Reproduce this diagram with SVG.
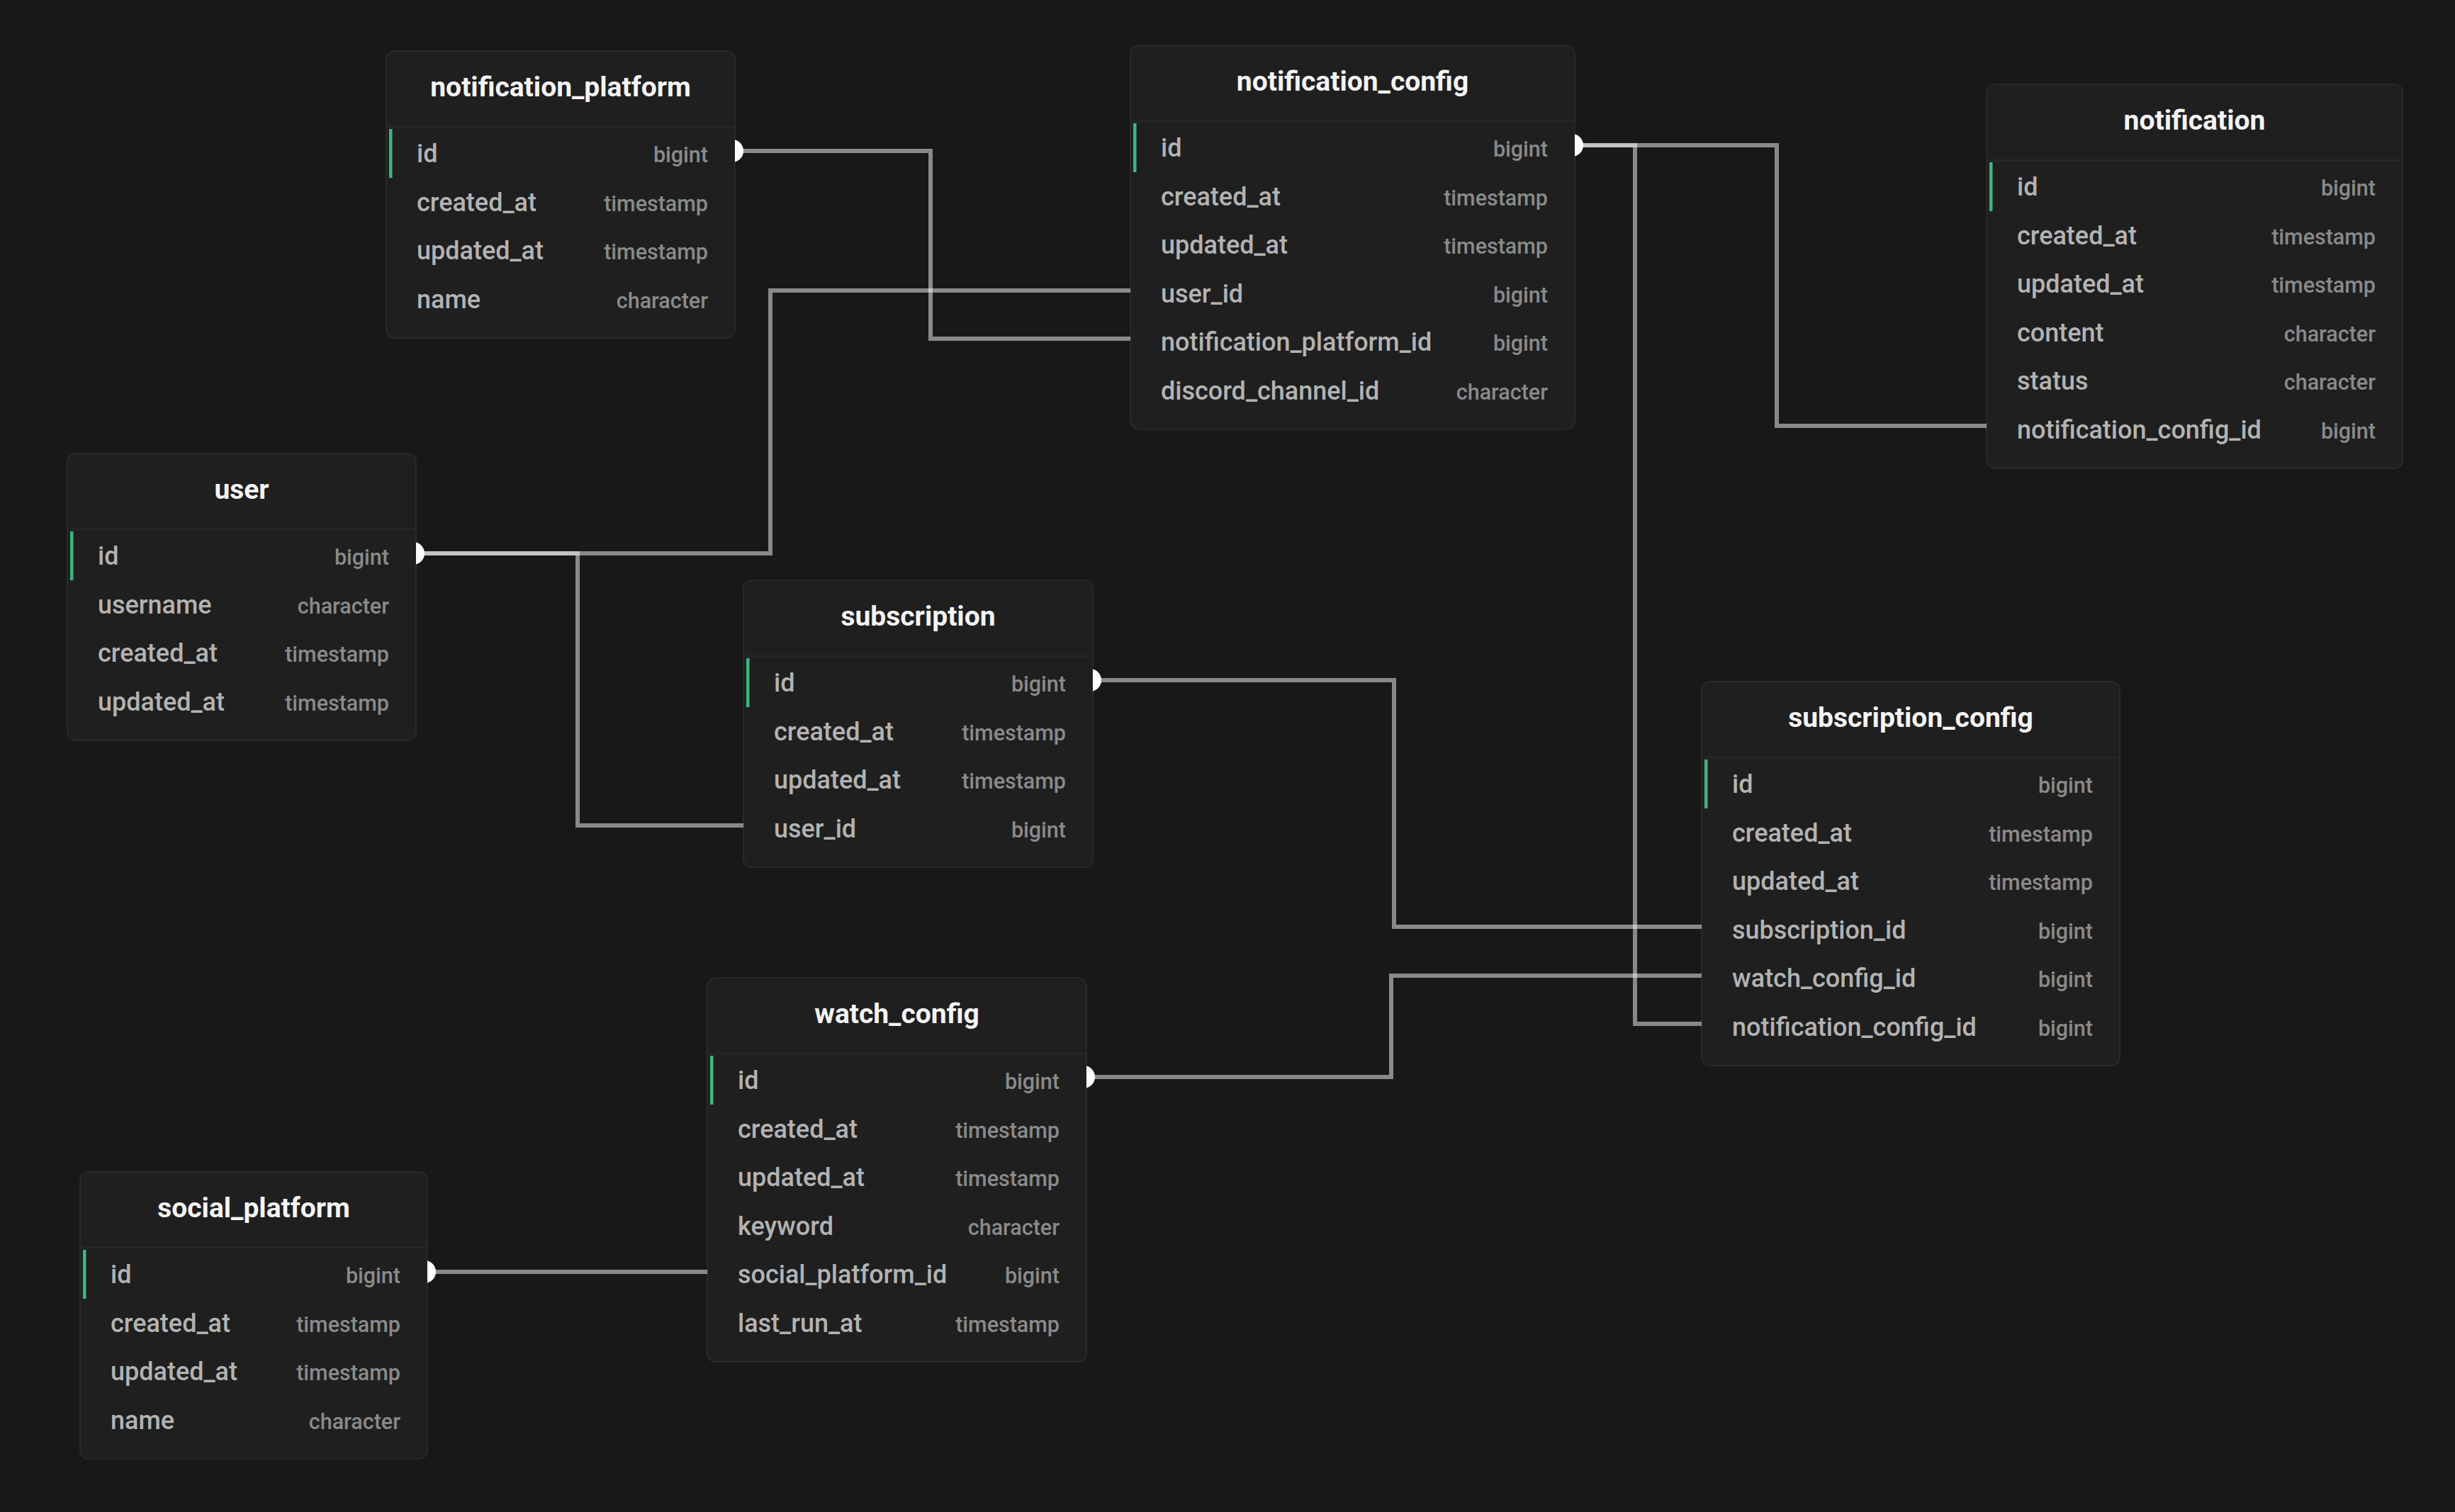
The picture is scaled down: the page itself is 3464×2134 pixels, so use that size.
<svg xmlns="http://www.w3.org/2000/svg" width="3464" height="2134" viewBox="0 0 3464 2134">
<style>
.bg{fill:#181818}
.box{fill:#1f1f1f;stroke:#292929;stroke-width:2}
.sep{stroke:#272727;stroke-width:3}
.pk{fill:#3fb580}
.title{font-family:Roboto,"Liberation Sans",sans-serif;font-weight:700;font-size:39px;fill:#f4f4f4;text-anchor:middle}
.name{font-family:Roboto,"Liberation Sans",sans-serif;font-weight:500;font-size:36px;fill:#b3b3b3}
.type{font-family:Roboto,"Liberation Sans",sans-serif;font-weight:500;font-size:30.5px;fill:#8a8a8a;text-anchor:end}
.conn{fill:none;stroke:#ffffff;stroke-opacity:0.49;stroke-width:6;stroke-linejoin:miter;stroke-linecap:butt}
.dot{fill:#ffffff}
</style>
<rect class="bg" x="0" y="0" width="3464" height="2134"/>

<g id="notification_platform" transform="translate(545,72)">
<rect class="box" x="0" y="0" width="492" height="405" rx="12"/>
<line class="sep" x1="1" y1="107" x2="491" y2="107"/>
<rect class="pk" x="4" y="110" width="4.5" height="69"/>
<text class="title" x="246" y="64">notification_platform</text>
<text class="name" x="43" y="157">id</text><text class="type" x="454" y="157">bigint</text>
<text class="name" x="43" y="225.5">created_at</text><text class="type" x="454" y="225.5">timestamp</text>
<text class="name" x="43" y="294">updated_at</text><text class="type" x="454" y="294">timestamp</text>
<text class="name" x="43" y="362.5">name</text><text class="type" x="454" y="362.5">character</text>
</g>

<g id="notification_config" transform="translate(1595,64)">
<rect class="box" x="0" y="0" width="627" height="542" rx="12"/>
<line class="sep" x1="1" y1="107" x2="626" y2="107"/>
<rect class="pk" x="4" y="110" width="4.5" height="69"/>
<text class="title" x="313.5" y="64">notification_config</text>
<text class="name" x="43" y="157">id</text><text class="type" x="589" y="157">bigint</text>
<text class="name" x="43" y="225.5">created_at</text><text class="type" x="589" y="225.5">timestamp</text>
<text class="name" x="43" y="294">updated_at</text><text class="type" x="589" y="294">timestamp</text>
<text class="name" x="43" y="362.5">user_id</text><text class="type" x="589" y="362.5">bigint</text>
<text class="name" x="43" y="431">notification_platform_id</text><text class="type" x="589" y="431">bigint</text>
<text class="name" x="43" y="499.5">discord_channel_id</text><text class="type" x="589" y="499.5">character</text>
</g>

<g id="notification" transform="translate(2803,119)">
<rect class="box" x="0" y="0" width="587" height="542" rx="12"/>
<line class="sep" x1="1" y1="107" x2="586" y2="107"/>
<rect class="pk" x="4" y="110" width="4.5" height="69"/>
<text class="title" x="293.5" y="64">notification</text>
<text class="name" x="43" y="157">id</text><text class="type" x="549" y="157">bigint</text>
<text class="name" x="43" y="225.5">created_at</text><text class="type" x="549" y="225.5">timestamp</text>
<text class="name" x="43" y="294">updated_at</text><text class="type" x="549" y="294">timestamp</text>
<text class="name" x="43" y="362.5">content</text><text class="type" x="549" y="362.5">character</text>
<text class="name" x="43" y="431">status</text><text class="type" x="549" y="431">character</text>
<text class="name" x="43" y="499.5">notification_config_id</text><text class="type" x="549" y="499.5">bigint</text>
</g>

<g id="user" transform="translate(95,640)">
<rect class="box" x="0" y="0" width="492" height="405" rx="12"/>
<line class="sep" x1="1" y1="107" x2="491" y2="107"/>
<rect class="pk" x="4" y="110" width="4.5" height="69"/>
<text class="title" x="246" y="64">user</text>
<text class="name" x="43" y="157">id</text><text class="type" x="454" y="157">bigint</text>
<text class="name" x="43" y="225.5">username</text><text class="type" x="454" y="225.5">character</text>
<text class="name" x="43" y="294">created_at</text><text class="type" x="454" y="294">timestamp</text>
<text class="name" x="43" y="362.5">updated_at</text><text class="type" x="454" y="362.5">timestamp</text>
</g>

<g id="subscription" transform="translate(1049,819)">
<rect class="box" x="0" y="0" width="493" height="405" rx="12"/>
<line class="sep" x1="1" y1="107" x2="492" y2="107"/>
<rect class="pk" x="4" y="110" width="4.5" height="69"/>
<text class="title" x="246.5" y="64">subscription</text>
<text class="name" x="43" y="157">id</text><text class="type" x="455" y="157">bigint</text>
<text class="name" x="43" y="225.5">created_at</text><text class="type" x="455" y="225.5">timestamp</text>
<text class="name" x="43" y="294">updated_at</text><text class="type" x="455" y="294">timestamp</text>
<text class="name" x="43" y="362.5">user_id</text><text class="type" x="455" y="362.5">bigint</text>
</g>

<g id="subscription_config" transform="translate(2401,962)">
<rect class="box" x="0" y="0" width="590" height="542" rx="12"/>
<line class="sep" x1="1" y1="107" x2="589" y2="107"/>
<rect class="pk" x="4" y="110" width="4.5" height="69"/>
<text class="title" x="295" y="64">subscription_config</text>
<text class="name" x="43" y="157">id</text><text class="type" x="552" y="157">bigint</text>
<text class="name" x="43" y="225.5">created_at</text><text class="type" x="552" y="225.5">timestamp</text>
<text class="name" x="43" y="294">updated_at</text><text class="type" x="552" y="294">timestamp</text>
<text class="name" x="43" y="362.5">subscription_id</text><text class="type" x="552" y="362.5">bigint</text>
<text class="name" x="43" y="431">watch_config_id</text><text class="type" x="552" y="431">bigint</text>
<text class="name" x="43" y="499.5">notification_config_id</text><text class="type" x="552" y="499.5">bigint</text>
</g>

<g id="watch_config" transform="translate(998,1380)">
<rect class="box" x="0" y="0" width="535" height="542" rx="12"/>
<line class="sep" x1="1" y1="107" x2="534" y2="107"/>
<rect class="pk" x="4" y="110" width="4.5" height="69"/>
<text class="title" x="267.5" y="64">watch_config</text>
<text class="name" x="43" y="157">id</text><text class="type" x="497" y="157">bigint</text>
<text class="name" x="43" y="225.5">created_at</text><text class="type" x="497" y="225.5">timestamp</text>
<text class="name" x="43" y="294">updated_at</text><text class="type" x="497" y="294">timestamp</text>
<text class="name" x="43" y="362.5">keyword</text><text class="type" x="497" y="362.5">character</text>
<text class="name" x="43" y="431">social_platform_id</text><text class="type" x="497" y="431">bigint</text>
<text class="name" x="43" y="499.5">last_run_at</text><text class="type" x="497" y="499.5">timestamp</text>
</g>

<g id="social_platform" transform="translate(113,1654)">
<rect class="box" x="0" y="0" width="490" height="405" rx="12"/>
<line class="sep" x1="1" y1="107" x2="489" y2="107"/>
<rect class="pk" x="4" y="110" width="4.5" height="69"/>
<text class="title" x="245" y="64">social_platform</text>
<text class="name" x="43" y="157">id</text><text class="type" x="452" y="157">bigint</text>
<text class="name" x="43" y="225.5">created_at</text><text class="type" x="452" y="225.5">timestamp</text>
<text class="name" x="43" y="294">updated_at</text><text class="type" x="452" y="294">timestamp</text>
<text class="name" x="43" y="362.5">name</text><text class="type" x="452" y="362.5">character</text>
</g>

<g id="connectors">
<path class="conn" d="M1037,213 H1313 V478 H1595"/>
<path class="conn" d="M587,781 H1087 V410 H1595"/>
<path class="conn" d="M587,781 H815 V1165 H1049"/>
<path class="conn" d="M2222,205 H2507 V601 H2803"/>
<path class="conn" d="M2222,205 H2307 V1445 H2401"/>
<path class="conn" d="M1542,960 H1967 V1308 H2401"/>
<path class="conn" d="M1533,1520 H1963 V1377 H2401"/>
<path class="conn" d="M603,1795 H998"/>
<path class="dot" d="M1037,197.5 A16,16 0 0 1 1037,228.5 Z"/>
<path class="dot" d="M587,765.5 A16,16 0 0 1 587,796.5 Z"/>
<path class="dot" d="M2222,189.5 A16,16 0 0 1 2222,220.5 Z"/>
<path class="dot" d="M1542,944.5 A16,16 0 0 1 1542,975.5 Z"/>
<path class="dot" d="M1533,1504.5 A16,16 0 0 1 1533,1535.5 Z"/>
<path class="dot" d="M603,1779.5 A16,16 0 0 1 603,1810.5 Z"/>
</g>
</svg>
